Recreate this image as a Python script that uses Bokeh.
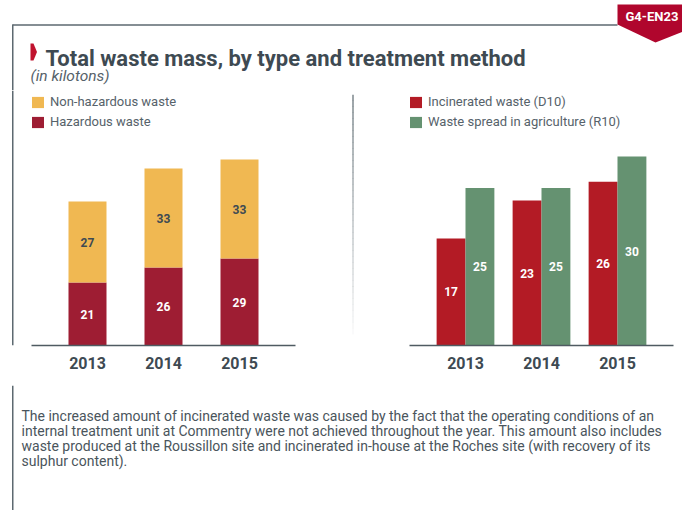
from bokeh.plotting import figure
from bokeh.layouts import row, column
from bokeh.models import Range1d, FactorRange, Legend, LegendItem, ColumnDataSource
from bokeh.transform import dodge
from bokeh.core.properties import value
from bokeh.embed import file_html
from bokeh.resources import INLINE

# ---------------- data ----------------
years = ["2013", "2014", "2015"]
hazardous = [21, 26, 29]
non_hazardous = [27, 33, 33]
incinerated = [17, 23, 26]
spread_agri = [25, 25, 30]

title_text = "Total waste mass, by type and treatment method"
subtitle_text = "(in kilotons)"
tag_text = "G4-EN23"
legend_left = ["Non-hazardous waste", "Hazardous waste"]
legend_right = ["Incinerated waste (D10)", "Waste spread in agriculture (R10)"]
note_lines = [
    "The increased amount of incinerated waste was caused by the fact that the operating conditions of an",
    "internal treatment unit at Commentry were not achieved throughout the year. This amount also includes",
    "waste produced at the Roussillon site and incinerated in-house at the Roches site (with recovery of its",
    "sulphur content).",
]

# ---------------- styles ----------------
FONT = "Roboto"
TEXT = "#3e4a52"
SOFT = "#56626a"
BORDER = "#5d6970"
TAG = "#b0062d"
YELLOW = "#f0b852"
HAZ = "#9e1d33"
INC = "#b31b25"
GREEN = "#659271"


def bare(w, h, xr, yr):
    p = figure(width=w, height=h, x_range=xr, y_range=yr, output_backend="svg",
               toolbar_location=None, tools="", min_border=0,
               x_axis_location=None, y_axis_location=None,
               outline_line_color=None, border_fill_color="white",
               background_fill_color="white")
    p.xgrid.visible = False
    p.ygrid.visible = False
    return p


# ---------------- header ----------------
W = 682
HH = 90
header = bare(W, HH, Range1d(0, W), Range1d(HH, 0))
header.segment(x0=[12], y0=[24.5], x1=[617], y1=[24.5], line_color=BORDER, line_width=1.5)
header.segment(x0=[12.25], y0=[24], x1=[12.25], y1=[HH], line_color=BORDER, line_width=1.5)
header.patch(x=[617, 700, 700, 655, 617], y=[4, 4, 24, 42, 24], color=TAG, line_color=None)
header.text(x=[625], y=[15.5], text=[tag_text], text_font=value(FONT), text_font_style="bold",
            text_font_size="13px", text_color="white", text_baseline="middle", text_align="left")
header.patch(x=[30, 33, 36.5, 33, 30], y=[43, 43, 51.5, 60, 60], color="#c0132e", line_color=None)
header.text(x=[45], y=[58.3], text=[title_text], text_font=value(FONT), text_font_style="bold",
            text_font_size="22px", text_color=TEXT, text_baseline="alphabetic", text_align="left")
header.text(x=[30], y=[75], text=[subtitle_text], text_font=value(FONT), text_font_style="italic",
            text_font_size="15.5px", text_color=SOFT, text_baseline="middle", text_align="left")

# ---------------- middle ----------------
MH = 295
PAD = 0.2368

edge = bare(16, MH, Range1d(0, 16), Range1d(MH, 0))
edge.segment(x0=[12.25], y0=[0], x1=[12.25], y1=[MH], line_color=BORDER, line_width=1.5)

sep = bare(8, MH, Range1d(0, 8), Range1d(MH, 0))
n_seg = 40
y0s = [5 + i * (277 / n_seg) for i in range(n_seg)]
y1s = [y + 277 / n_seg + 0.3 for y in y0s]
alphas = [0.9 - 0.85 * i / (n_seg - 1) for i in range(n_seg)]
sep.segment(x0=[3.5] * n_seg, y0=y0s, x1=[3.5] * n_seg, y1=y1s, line_color="#6e7a80",
            line_alpha=alphas, line_width=1.5)


def style_axis(p):
    ax = p.xaxis[0]
    ax.axis_line_color = "#4f5b62"
    ax.axis_line_width = 1.5
    ax.major_tick_line_color = None
    ax.minor_tick_line_color = None
    ax.major_tick_out = 0
    ax.major_tick_in = 0
    ax.major_label_standoff = 11
    ax.major_label_text_font = FONT
    ax.major_label_text_font_style = "bold"
    ax.major_label_text_font_size = "16px"
    ax.major_label_text_color = TEXT


def make_legend(items):
    lg = Legend(items=items, location=(-1, 216), glyph_width=15, glyph_height=14,
                label_height=14, spacing=5, padding=0, margin=0, label_standoff=5,
                border_line_color=None, background_fill_alpha=0,
                label_text_font=FONT, label_text_font_size="13px",
                label_text_color=SOFT)
    return lg


# left chart: stacked
src_l = ColumnDataSource(dict(
    year=years, haz=hazardous, non=non_hazardous,
    haz_mid=[h / 2 for h in hazardous],
    non_mid=[h + n / 2 for h, n in zip(hazardous, non_hazardous)],
    haz_lbl=[str(h) for h in hazardous],
    non_lbl=[str(n) for n in non_hazardous],
))
left = figure(width=333, height=MH, output_backend="svg", toolbar_location=None, tools="",
              x_range=FactorRange(*years, range_padding=PAD, range_padding_units="absolute"),
              y_range=Range1d(0, 85), y_axis_location=None,
              min_border=0, min_border_left=15, min_border_right=54, min_border_top=0,
              min_border_bottom=40, outline_line_color=None)
left.xgrid.visible = False
left.ygrid.visible = False
rs = left.vbar_stack(["haz", "non"], x="year", width=0.5, source=src_l,
                     color=[HAZ, YELLOW], line_color=None)
left.text(x="year", y="haz_mid", text="haz_lbl", source=src_l, text_font=value(FONT),
          text_font_style="bold", text_font_size="12px", text_color="white",
          text_align="center", text_baseline="middle")
left.text(x="year", y="non_mid", text="non_lbl", source=src_l, text_font=value(FONT),
          text_font_style="bold", text_font_size="12px", text_color=TEXT,
          text_align="center", text_baseline="middle")
style_axis(left)
left.add_layout(make_legend([LegendItem(label=legend_left[0], renderers=[rs[1]]),
                             LegendItem(label=legend_left[1], renderers=[rs[0]])]))

# right chart: grouped
src_r = ColumnDataSource(dict(
    year=years, inc=incinerated, spr=spread_agri,
    inc_mid=[v / 2 for v in incinerated],
    spr_mid=[v / 2 for v in spread_agri],
    inc_lbl=[str(v) for v in incinerated],
    spr_lbl=[str(v) for v in spread_agri],
))
right = figure(width=325, height=MH, output_backend="svg", toolbar_location=None, tools="",
               x_range=FactorRange(*years, range_padding=PAD, range_padding_units="absolute"),
               y_range=Range1d(0, 255 / 6.3), y_axis_location=None,
               min_border=0, min_border_left=52, min_border_right=9, min_border_top=0,
               min_border_bottom=40, outline_line_color=None)
right.xgrid.visible = False
right.ygrid.visible = False
r_inc = right.vbar(x=dodge("year", -0.19, range=right.x_range), top="inc", width=0.38,
                   source=src_r, color=INC, line_color=None)
r_spr = right.vbar(x=dodge("year", 0.19, range=right.x_range), top="spr", width=0.38,
                   source=src_r, color=GREEN, line_color=None)
right.text(x=dodge("year", -0.19, range=right.x_range), y="inc_mid", text="inc_lbl", source=src_r,
           text_font=value(FONT), text_font_style="bold", text_font_size="12px",
           text_color="white", text_align="center", text_baseline="middle")
right.text(x=dodge("year", 0.19, range=right.x_range), y="spr_mid", text="spr_lbl", source=src_r,
           text_font=value(FONT), text_font_style="bold", text_font_size="12px",
           text_color="white", text_align="center", text_baseline="middle")
style_axis(right)
right.add_layout(make_legend([LegendItem(label=legend_right[0], renderers=[r_inc]),
                              LegendItem(label=legend_right[1], renderers=[r_spr])]))

# ---------------- footer ----------------
FH = 125
footer = bare(W, FH, Range1d(0, W), Range1d(FH, 0))
footer.segment(x0=[12.25], y0=[0], x1=[12.25], y1=[FH], line_color=BORDER, line_width=1.5)
footer.text(x=[21] * len(note_lines), y=[30 + 15 * i for i in range(len(note_lines))],
            text=note_lines, text_font=value(FONT), text_font_size="14px",
            text_color="#4a555c", text_baseline="alphabetic", text_align="left")

layout = column(header, row(edge, left, sep, right), footer)

open("out.html", "w").write(file_html(layout, INLINE))
